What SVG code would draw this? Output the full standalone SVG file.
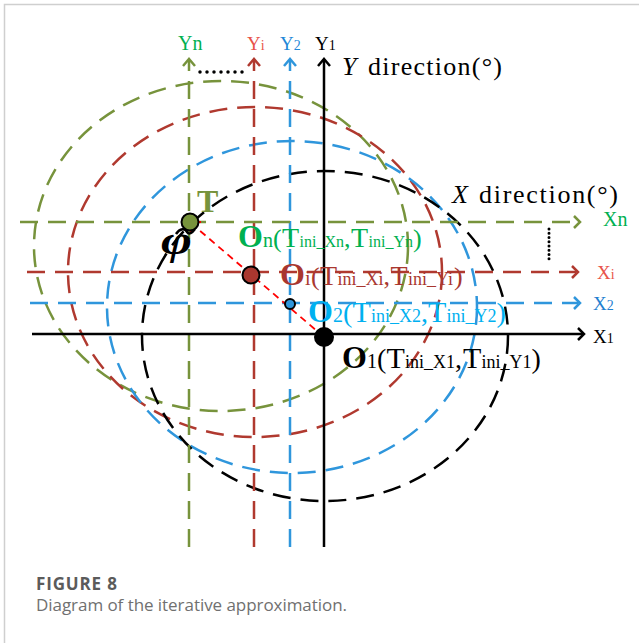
<svg xmlns="http://www.w3.org/2000/svg" width="639" height="643" viewBox="0 0 639 643">
<style>
.s{font-family:"Liberation Serif","Times New Roman",serif}
.g{stroke:#77933c}.r{stroke:#b0392f}.b{stroke:#2f96dc}.k{stroke:#000}
.d{fill:none;stroke-width:2.5;stroke-dasharray:18 10}
.ah{fill:none;stroke-width:2.5}
.cap{font-family:"Open Sans","Noto Sans",sans-serif}
</style>
<rect width="639" height="643" fill="#fff"/>
<path d="M4.5,643V4.5H639" fill="none" stroke="#cfcfcf" stroke-width="1.5"/>
<g id="circles">
<ellipse class="d g" cx="221" cy="246" rx="187" ry="165"/>
<ellipse class="d r" cx="255" cy="272" rx="187" ry="165"/>
<ellipse class="d b" cx="292" cy="307" rx="185" ry="166"/>
<ellipse class="d k" cx="325" cy="336" rx="183" ry="165"/>
</g>
<g id="connectors">
<line class="d g" x1="189" y1="547" x2="189" y2="61"/>
<line class="d r" x1="254" y1="547" x2="254" y2="61"/>
<line class="d b" x1="290" y1="547" x2="290" y2="61"/>
<line class="d g" x1="20" y1="222" x2="578" y2="222"/>
<line class="d r" x1="27" y1="272" x2="576" y2="272"/>
<line class="d b" x1="30" y1="303" x2="578" y2="303"/>
<line class="k" x1="324" y1="547" x2="324" y2="60" stroke-width="2.5"/>
<line class="k" x1="32" y1="334" x2="583" y2="334" stroke-width="2.5"/>
<polyline class="ah g" points="183,66 189,59 195,66"/>
<polyline class="ah r" points="248,66 254,59 260,66"/>
<polyline class="ah b" points="284,66 290,59 296,66"/>
<polyline class="ah k" points="318,66 324,59 330,66" stroke-width="2.8"/>
<polyline class="ah g" points="574,216 580,222 574,228"/>
<polyline class="ah r" points="572,266 578,272 572,278"/>
<polyline class="ah b" points="574,297 580,303 574,309"/>
<polyline class="ah k" points="578,328 584,334 578,340" stroke-width="2.8"/>
<line x1="200" y1="72" x2="243" y2="72" stroke="#000" stroke-width="3.5" stroke-linecap="round" stroke-dasharray="0 7"/>
<line x1="549" y1="229" x2="549" y2="263" stroke="#000" stroke-width="3" stroke-linecap="round" stroke-dasharray="0 4.25"/>
<line x1="324" y1="337" x2="192" y2="224" stroke="#f00" stroke-width="1.8" stroke-dasharray="7 5"/>
<polyline points="191,233 190.5,222.5 201,222" fill="none" stroke="#f00" stroke-width="2"/>
<path d="M176,234 C180,228 185,228 187,232 C189,235 192,233 195,229" fill="none" stroke="#000" stroke-width="2.5"/>
</g>
<g id="T">
<circle cx="190" cy="222" r="8.5" fill="#77933c" stroke="#000" stroke-width="2"/>
<text class="s" x="197" y="212" font-size="32" font-weight="bold" fill="#77933c">T</text>
<text class="s" x="161" y="254" font-size="40" font-style="italic" font-weight="bold" textLength="31" lengthAdjust="spacingAndGlyphs">φ</text>
</g>
<g id="Oi">
<circle cx="251" cy="275" r="8.5" fill="#a9372f" stroke="#000" stroke-width="2"/>
</g>
<g id="O2">
<circle cx="290" cy="304" r="5" fill="#2f96dc" stroke="#000" stroke-width="2"/>
</g>
<g id="O1">
<circle cx="324" cy="337" r="10" fill="#000"/>
</g>
<g id="labelOn" class="s" fill="#00b050">
<text y="247"><tspan x="238" font-size="32" font-weight="bold">O</tspan><tspan x="263" font-size="20">n</tspan><tspan x="273" font-size="26">(</tspan><tspan x="282" font-size="28">T</tspan><tspan x="299.5" font-size="16">ini_Xn</tspan><tspan x="344" font-size="26">,</tspan><tspan x="351" font-size="28">T</tspan><tspan x="368.5" font-size="16">ini_Yn</tspan><tspan x="413" font-size="26">)</tspan></text>
</g>
<g id="labelOi" class="s" fill="#a9372f">
<text y="285"><tspan x="280" font-size="32" font-weight="bold">O</tspan><tspan x="305" font-size="20">i</tspan><tspan x="311" font-size="26">(</tspan><tspan x="320" font-size="28">T</tspan><tspan x="337.5" font-size="18">ini_Xi</tspan><tspan x="383.5" font-size="26">,</tspan><tspan x="390.5" font-size="28">T</tspan><tspan x="408" font-size="18">ini_Yi</tspan><tspan x="454" font-size="26">)</tspan></text>
</g>
<g id="labelO2" class="s" fill="#00b0f0">
<text y="322"><tspan x="308" font-size="32" font-weight="bold">O</tspan><tspan x="333" font-size="20">2</tspan><tspan x="343" font-size="28">(</tspan><tspan x="352.5" font-size="30">T</tspan><tspan x="371" font-size="18">ini_X2</tspan><tspan x="421" font-size="28">,</tspan><tspan x="428" font-size="30">T</tspan><tspan x="446.5" font-size="18">ini_Y2</tspan><tspan x="496.5" font-size="28">)</tspan></text>
</g>
<g id="labelO1" class="s" fill="#000">
<text y="368"><tspan x="342" font-size="32" font-weight="bold">O</tspan><tspan x="367" font-size="20">1</tspan><tspan x="377" font-size="28">(</tspan><tspan x="386.5" font-size="30">T</tspan><tspan x="405" font-size="18">ini_X1</tspan><tspan x="455" font-size="28">,</tspan><tspan x="463" font-size="30">T</tspan><tspan x="481.5" font-size="18">ini_Y1</tspan><tspan x="531.5" font-size="28">)</tspan></text>
</g>
<g id="axisLabels" class="s">
<text x="178" y="50" font-size="20" fill="#00b050">Yn</text>
<text x="247" y="50" fill="#e8534a"><tspan font-size="19">Y</tspan><tspan font-size="14">i</tspan></text>
<text x="280" y="50" fill="#1f88d8"><tspan font-size="19">Y</tspan><tspan font-size="14">2</tspan></text>
<text x="315" y="50" fill="#000"><tspan font-size="19">Y</tspan><tspan font-size="14">1</tspan></text>
<text x="342" y="75" font-size="26" font-style="italic">Y</text>
<text x="368" y="75" font-size="26" textLength="134">direction(°)</text>
<text x="452" y="203" font-size="26" font-style="italic">X</text>
<text x="479" y="203" font-size="26" textLength="139">direction(°)</text>
<text x="603" y="226" font-size="20" fill="#00b050">Xn</text>
<text x="597" y="279" fill="#e8534a"><tspan font-size="19">X</tspan><tspan font-size="14">i</tspan></text>
<text x="593" y="310" fill="#1f80d0"><tspan font-size="19">X</tspan><tspan font-size="14">2</tspan></text>
<text x="593" y="343" fill="#000"><tspan font-size="19">X</tspan><tspan font-size="14">1</tspan></text>
</g>
<g id="caption" class="cap">
<text x="36" y="590" font-size="17" font-weight="bold" fill="#5b5b5b" textLength="81">FIGURE 8</text>
<text x="36" y="611" font-size="17" fill="#707070" textLength="311">Diagram of the iterative approximation.</text>
</g>
</svg>
